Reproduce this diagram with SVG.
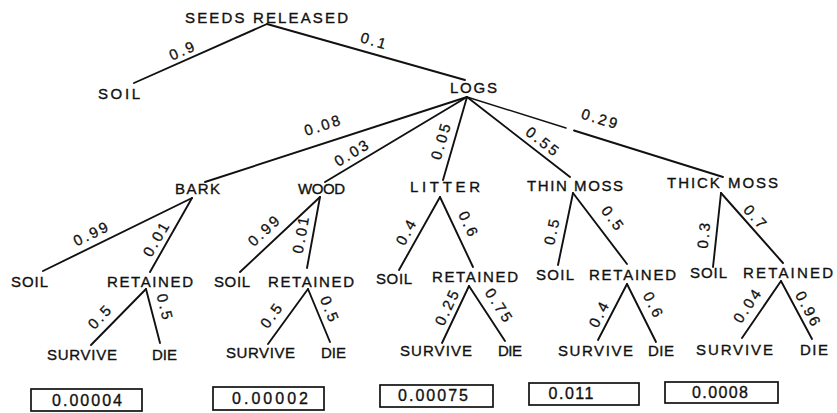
<svg xmlns="http://www.w3.org/2000/svg" width="837" height="413" viewBox="0 0 837 413">
<style>
.n{font-family:"Liberation Sans",Arial,sans-serif;font-size:15px;fill:#111;stroke:#111;stroke-width:0.35;}
.p{font-family:"Liberation Sans",Arial,sans-serif;font-size:15px;fill:#111;stroke:#111;stroke-width:0.3;letter-spacing:2.5px;text-anchor:middle;}
.b{font-family:"Liberation Sans",Arial,sans-serif;font-size:16px;fill:#111;stroke:#111;stroke-width:0.35;text-anchor:middle;}
.e{stroke:#111;stroke-width:1.9;fill:none;stroke-linecap:round;}
.box{stroke:#111;stroke-width:1.7;fill:#fff;}
</style>
<rect width="837" height="413" fill="#fff"/>
<g id="connectors">
<line class="e" x1="267" y1="24" x2="134" y2="83"/>
<line class="e" x1="267" y1="24" x2="465" y2="80"/>
<line class="e" x1="467" y1="97" x2="205" y2="182"/>
<line class="e" x1="467" y1="97" x2="325" y2="182"/>
<line class="e" x1="467" y1="97" x2="443" y2="180"/>
<line class="e" x1="467" y1="97" x2="570" y2="177"/>
<line class="e" x1="467" y1="97" x2="566" y2="128" style="stroke-width:1.4"/>
<line class="e" x1="574" y1="130.5" x2="723" y2="177"/>
<line class="e" x1="192" y1="198" x2="43" y2="271"/>
<line class="e" x1="192" y1="198" x2="150" y2="272"/>
<line class="e" x1="146" y1="289" x2="91" y2="345"/>
<line class="e" x1="146" y1="289" x2="160" y2="343"/>
<line class="e" x1="320" y1="197" x2="240" y2="272"/>
<line class="e" x1="320" y1="197" x2="307" y2="268"/>
<line class="e" x1="308" y1="289" x2="268" y2="344"/>
<line class="e" x1="308" y1="289" x2="330" y2="342"/>
<line class="e" x1="440" y1="197" x2="399" y2="270"/>
<line class="e" x1="440" y1="197" x2="473" y2="267"/>
<line class="e" x1="469" y1="286" x2="442" y2="343"/>
<line class="e" x1="469" y1="286" x2="505" y2="341"/>
<line class="e" x1="573" y1="193" x2="558" y2="265"/>
<line class="e" x1="573" y1="193" x2="627" y2="264"/>
<line class="e" x1="627" y1="284" x2="598" y2="340"/>
<line class="e" x1="627" y1="284" x2="656" y2="342"/>
<line class="e" x1="721" y1="193" x2="713" y2="267"/>
<line class="e" x1="721" y1="193" x2="783" y2="263"/>
<line class="e" x1="781" y1="281" x2="742" y2="338"/>
<line class="e" x1="781" y1="281" x2="812" y2="339"/>
<g id="edge-labels">
<text class="p" transform="translate(185,55) rotate(-24)">0.9</text>
<text class="p" transform="translate(373,46) rotate(16)">0.1</text>
<text class="p" transform="translate(325,130) rotate(-18)">0.08</text>
<text class="p" transform="translate(355,157) rotate(-31)">0.03</text>
<text class="p" transform="translate(446,142) rotate(-74)">0.05</text>
<text class="p" transform="translate(540,146) rotate(38)">0.55</text>
<text class="p" transform="translate(599,124) rotate(17)">0.29</text>
<text class="p" transform="translate(94,238) rotate(-26)">0.99</text>
<text class="p" transform="translate(161,241) rotate(-60)">0.01</text>
<text class="p" transform="translate(104,320) rotate(-46)">0.5</text>
<text class="p" transform="translate(160,309) rotate(76)">0.5</text>
<text class="p" transform="translate(268,234) rotate(-43)">0.99</text>
<text class="p" transform="translate(306,235) rotate(-80)">0.01</text>
<text class="p" transform="translate(276,318) rotate(-54)">0.5</text>
<text class="p" transform="translate(325,312) rotate(68)">0.5</text>
<text class="p" transform="translate(411,234) rotate(-61)">0.4</text>
<text class="p" transform="translate(464,227) rotate(65)">0.6</text>
<text class="p" transform="translate(452,309) rotate(-65)">0.25</text>
<text class="p" transform="translate(495,309) rotate(57)">0.75</text>
<text class="p" transform="translate(557,232) rotate(-78)">0.5</text>
<text class="p" transform="translate(609,222) rotate(53)">0.5</text>
<text class="p" transform="translate(604,316) rotate(-63)">0.4</text>
<text class="p" transform="translate(649,308) rotate(63)">0.6</text>
<text class="p" transform="translate(709,235) rotate(-84)">0.3</text>
<text class="p" transform="translate(752,221) rotate(48)">0.7</text>
<text class="p" transform="translate(752,308) rotate(-56)">0.04</text>
<text class="p" transform="translate(804,312) rotate(62)">0.96</text>
</g>
</g>
<g id="seeds"><text class="n" x="185" y="23" textLength="163" lengthAdjust="spacing">SEEDS RELEASED</text></g>
<g id="soil-top"><text class="n" x="98" y="99" textLength="42" lengthAdjust="spacing">SOIL</text></g>
<g id="logs"><text class="n" x="450" y="93" textLength="47" lengthAdjust="spacing">LOGS</text></g>
<g id="bark"><text class="n" x="175" y="194" textLength="45" lengthAdjust="spacing">BARK</text></g>
<g id="wood"><text class="n" x="298" y="194" textLength="47" lengthAdjust="spacing">WOOD</text></g>
<g id="litter"><text class="n" x="410" y="192" textLength="70" lengthAdjust="spacing">LITTER</text></g>
<g id="thin-moss"><text class="n" x="527" y="191" textLength="96" lengthAdjust="spacing">THIN MOSS</text></g>
<g id="thick-moss"><text class="n" x="667" y="188" textLength="111" lengthAdjust="spacing">THICK MOSS</text></g>
<g id="bark-soil"><text class="n" x="11" y="287" textLength="37" lengthAdjust="spacing">SOIL</text></g>
<g id="bark-retained"><text class="n" x="107" y="287" textLength="86" lengthAdjust="spacing">RETAINED</text></g>
<g id="wood-soil"><text class="n" x="214" y="287" textLength="36" lengthAdjust="spacing">SOIL</text></g>
<g id="wood-retained"><text class="n" x="268" y="287" textLength="86" lengthAdjust="spacing">RETAINED</text></g>
<g id="litter-soil"><text class="n" x="376" y="284" textLength="36" lengthAdjust="spacing">SOIL</text></g>
<g id="litter-retained"><text class="n" x="432" y="282" textLength="86" lengthAdjust="spacing">RETAINED</text></g>
<g id="thin-soil"><text class="n" x="536" y="280" textLength="38" lengthAdjust="spacing">SOIL</text></g>
<g id="thin-retained"><text class="n" x="589" y="280" textLength="87" lengthAdjust="spacing">RETAINED</text></g>
<g id="thick-soil"><text class="n" x="690" y="278" textLength="37" lengthAdjust="spacing">SOIL</text></g>
<g id="thick-retained"><text class="n" x="743" y="278" textLength="90" lengthAdjust="spacing">RETAINED</text></g>
<g id="bark-survive"><text class="n" x="47" y="360" textLength="70" lengthAdjust="spacing">SURVIVE</text></g>
<g id="bark-die"><text class="n" x="152" y="360" textLength="25" lengthAdjust="spacing">DIE</text></g>
<g id="wood-survive"><text class="n" x="226" y="358" textLength="69" lengthAdjust="spacing">SURVIVE</text></g>
<g id="wood-die"><text class="n" x="321" y="358" textLength="25" lengthAdjust="spacing">DIE</text></g>
<g id="litter-survive"><text class="n" x="400" y="356" textLength="72" lengthAdjust="spacing">SURVIVE</text></g>
<g id="litter-die"><text class="n" x="498" y="356" textLength="24" lengthAdjust="spacing">DIE</text></g>
<g id="thin-survive"><text class="n" x="558" y="356" textLength="75" lengthAdjust="spacing">SURVIVE</text></g>
<g id="thin-die"><text class="n" x="648" y="356" textLength="26" lengthAdjust="spacing">DIE</text></g>
<g id="thick-survive"><text class="n" x="696" y="355" textLength="77" lengthAdjust="spacing">SURVIVE</text></g>
<g id="thick-die"><text class="n" x="800" y="355" textLength="28" lengthAdjust="spacing">DIE</text></g>
<g id="result-bark"><rect class="box" x="31" y="389" width="111" height="22"/><text class="b" x="87" y="406" textLength="70" lengthAdjust="spacing">0.00004</text></g>
<g id="result-wood"><rect class="box" x="213" y="387" width="111" height="23"/><text class="b" x="270" y="404" textLength="76" lengthAdjust="spacing">0.00002</text></g>
<g id="result-litter"><rect class="box" x="380" y="385" width="113" height="22"/><text class="b" x="433" y="401" textLength="70" lengthAdjust="spacing">0.00075</text></g>
<g id="result-thin-moss"><rect class="box" x="529" y="383" width="110" height="22"/><text class="b" x="571" y="399" textLength="45" lengthAdjust="spacing">0.011</text></g>
<g id="result-thick-moss"><rect class="box" x="665" y="382" width="113" height="21"/><text class="b" x="720" y="398" textLength="56" lengthAdjust="spacing">0.0008</text></g>
</svg>
